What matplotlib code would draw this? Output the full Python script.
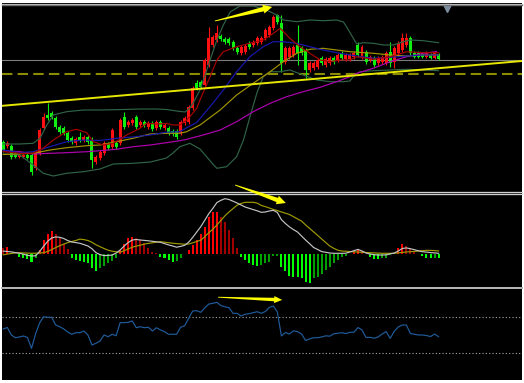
import numpy as np
import matplotlib
matplotlib.use("Agg")
import matplotlib.pyplot as plt
from matplotlib.patches import Polygon, Rectangle
from matplotlib.lines import Line2D
from matplotlib.transforms import IdentityTransform

# ---------------- data (candles, price units) ----------------
opens = [58,54,54,47,43,43,45,45,32,47, 72,85,87,82,73,72,67,62,57,63,
         60,63,60,38,42,47,56,53,57,57, 83,75,77,83,75,78,73,77,72,78,
         72,72,69,69,67,77,78,92,117,118, 115,135,155,160,164,161,161,158,152,147,
         148,157,155,157,158,162,165,172,185,177, 138,143,145,155,152,150,130,132,133,142,
         135,137,142,140,147,141,141,143,155,143, 148,140,142,137,138,137,148,138,147,150,
         155,162,147,147,146,143,145,142,146]
closes = [50,57,43,43,45,45,42,28,48,70, 83,82,83,73,68,67,60,58,61,60,
          63,58,40,43,48,57,52,70,53,80, 73,78,80,73,78,75,77,71,78,73,
          75,67,67,63,78,82,93,112,112,113, 140,162,163,167,161,158,157,152,148,153,
          154,153,158,162,162,170,173,183,178,137, 152,152,153,147,147,130,137,137,140,137,
          141,142,138,145,142,145,145,147,145,153, 138,143,135,142,143,147,137,152,157,162,
          162,147,143,143,143,147,142,147,141]
highs = [60,59,56,49,46,46,47,47,50,72, 87,97,89,84,75,74,69,64,63,68,
         65,65,63,45,50,59,58,72,59,82, 88,80,82,85,80,80,79,79,80,80,
         77,74,71,71,80,84,95,114,120,120, 142,173,165,175,166,163,163,160,154,155,
         156,159,160,164,164,172,175,185,186,185, 154,154,155,175,154,152,139,139,142,144,
         143,144,144,147,149,147,147,149,158,155, 150,145,144,144,145,149,158,154,159,167,
         167,164,149,149,148,149,147,149,147]
lows = [48,52,41,42,42,42,41,25,30,45, 70,80,81,71,66,65,58,56,55,58,
        58,56,32,36,40,45,50,51,51,55, 71,73,75,71,73,73,71,69,70,71,
        70,65,64,61,65,75,76,90,110,111, 113,133,153,158,159,156,155,150,146,145,
        146,151,153,155,156,160,163,170,176,128, 136,141,143,135,145,122,128,130,131,135,
        133,135,136,138,140,139,139,141,143,141, 136,138,133,135,136,135,133,132,145,148,
        153,145,142,142,142,142,141,141,140]

# ---------------- main-panel indicator lines (bar index, value) ----------------
bb_up_bar = [0,4.1,7.4,9.1,10.8,12.4,15.7,19.9,24,29.8,33.9,38.1,40.5,43,45.1,46.3,47.1,48.8,50.5,51.3,
             53,54.6,56.3,58.7,62,64.5,66.2,67.8,69.5,72.8,76.1,79.4,82.7,84.4,85.2,86.8,87.7,89.3,91.8,94.3,
             96.8,99.3,100.9,104.2,108]
bb_up = [56,56,56.7,61.7,75,85,88.3,90,90,90.5,91,91,90.5,89,88,92,97,110,130,140,
         160,175,188,194,194,191,188.3,185,180,178.3,180,179.3,180,178,173,162,156,157.3,156.7,155,
         155,158.3,160,159.3,157.3]
bb_lo_bar = [0,4.1,7.4,9.9,12.4,15.7,19.9,24,27.3,32.2,36.5,40.5,42.1,43.8,46.3,48.8,50.5,52.2,53,55.4,
             57.9,59.6,61.2,62.9,64.5,66.2,68.7,71.1,74.4,77.8,81.1,84.4,86,86.8,88.5,91.8,96,100.1,104.2,108]
bb_lo = [46,45,35,26.7,24,26.7,28.3,31,36,36.7,38,42,47,53.3,56.7,51,43,35,31.7,33.3,
         43.3,60,83.3,106.7,123.3,128.3,128.3,130,125,120,118.3,118.3,119,123.3,128.3,129.3,130,130.7,130,129.3]
ma_red_bar = [0,4.1,7.4,9.9,12.4,15.7,18.2,20.7,22.3,24.8,27.3,30.6,33.9,35.5,38.1,40.5,42.1,43.8,45.5,46.3,
              48,48.8,51.3,53,54.6,57.9,61.2,64.5,67,68.7,71.1,73.6,76.1,78.6,81.1,83.5,86,87.7,91.8,96,
              100.1,104.2,108]
ma_red = [48.3,46.7,46.7,51.7,60,68.3,70.7,67.3,58.3,55,56.7,65,71.7,76.7,76,76.5,75,75,80,83.3,
          91.7,100,123.3,140,148.3,153.3,156.7,160,166.7,171.7,161.7,153.3,146.7,140,138.3,140,140,143.3,140.7,143.3,
          148.3,147.3,147.3]
ma_blue_bar = [0,4.1,7.4,11.6,15.7,19.9,24,28.1,32.2,36.4,40.5,43.8,44.7,48,51.3,54.6,57.9,61.2,64.5,67,
               69.5,72.8,76.1,79.4,82.7,86,91.8,96,100.1,104.2,108]
ma_blue = [50,47.3,48.3,53.3,58.3,60,59.5,61.7,63,65,67.8,68.3,70.5,77.5,93.3,110,128.3,143.3,153.3,158.3,
           158.3,156.7,153.3,150,147.3,145,141.7,142.7,144,145,145]
ma_olive_bar = [0,7.4,11.6,15.7,20.7,24,28.1,32.2,36.4,40.5,43.8,45.5,48.8,53.8,57.9,62,66.2,69.5,72.8,76.1,
                79.4,82.7,86,91.8,96,100.1,104.2,108]
ma_olive = [45.5,46.7,50,52.3,54.3,55,58.3,61.7,66,66.7,66.7,68.3,75,90,105,116.7,128.3,138.3,146.7,150.7,
            151.7,150,148.3,146.7,145,144,145,145]
ma_mag_bar = [0,4.1,7.4,11.6,15.7,20.7,24,28.1,32.2,36.4,40.5,43.8,45.5,49.6,53.8,57.9,62,66.2,70.3,74.4,
              78.6,82.7,86,87.7,91.8,96,100.1,104.2,107.5]
ma_mag = [49.3,48.3,46,46.7,47.3,48.3,49.3,50.7,53.3,55,57.3,59.3,60.7,65,70,78.3,88.3,96.7,103.3,108.3,
          112.7,118.3,123.3,126.7,131.7,138.3,143.3,146.7,148.3]

level_dashed = 126     # olive dashed horizontal level
price_line = 140       # current price line
trend_bars = [-0.82, 128.7]
trend_vals = [94, 139]

# ---------------- MACD ----------------
macd_line = [2.9,2.5,2.1,1.4,0.8,-0.2,-1.3,-2,-1.8,2.5,
             7.7,12.7,16,17.1,16.7,15.5,13.4,12,11.4,10.7,
             9.4,8,5.3,1.3,-0.6,-1.6,-1.4,-1.1,1,4,
             8,11.5,14,14.5,14,13.6,13.2,12.7,12.2,11.7,
             10.4,9.1,8,6.8,7.6,8.7,11.8,16.6,22,27.3,
             33.8,40.4,45.7,51.4,53.7,55.3,54.5,52.8,51,49,
             47,45.7,44.4,43.2,41.7,42,43,43.7,41.5,34.4,
             30.5,27.1,24.4,22,18,14,10.3,6.5,4.5,2.4,
             1.7,1,0.7,0.7,0.7,0.8,2,3.3,4.6,3,
             1,0,-0.7,-1,-1,-0.9,0.2,1,3,5.5,
             6.1,5.3,4.3,3.2,2.3,1.9,1.4,1.1,0.7]
macd_signal = [-0.8,-0.1,0.5,1.1,1.2,1.1,0.9,0.7,0.8,1,
               1.3,2.5,4.4,6.4,8.3,9.9,11.4,12.5,13.5,14.9,
               14.4,13.5,11.7,9.2,7.3,5.5,3.8,2.8,2.2,1.7,
               3.4,5.1,6.8,7.9,8.8,9.9,10.6,11.2,11.8,12.3,
               11.8,11.3,10.8,10.4,10.1,9.8,9.9,11.2,12.5,13.9,
               17.3,21.3,24.8,29,33.6,38.2,42,45.4,48.8,50.5,
               51.7,51.7,51.7,50.9,48.6,47.4,46,44.6,43.4,42.1,
               40.8,39.5,37.3,35.1,32.9,29.1,25.6,22.1,18.6,15,
               11.5,8,5.7,3.8,3,2.7,2.5,2.2,2,1.7,
               1.5,1.3,1.1,0.9,0.7,0.7,0.7,0.7,1.1,1.6,
               2,2.3,2.6,3,3.3,3.6,3.6,3.4,3]
macd_hist = [6.5,6.8,1,0.5,-2.7,-3.7,-5,-8.3,-4.3,4,
             14,19.7,23.3,20,15.7,9.7,5,-4.3,-6,-7,
             -8.3,-9.3,-13.7,-16.7,-14.3,-11.7,-9.3,-7,-4.3,4,
             9.7,15.7,17.3,16.3,14,10.7,6.3,2.3,1,-2.7,
             -3.7,-6,-7.7,-7,-4.3,0.5,4,9,14,19.7,
             27.3,37.3,41.7,41.8,37.3,31.7,24,15.7,6.3,-2.7,
             -6,-9.3,-11,-11.7,-11,-9.3,-7.7,-1.7,-1.5,-12.7,
             -17,-21.7,-22.7,-22.8,-24.3,-27.7,-28.7,-24.3,-22.7,-20.3,
             -16,-12.7,-9.3,-6,-2.7,-1.7,0.3,2.3,4.7,3,
             0.5,-2.7,-5,-5.1,-4.3,-3.7,-0.5,1,5.7,9.7,
             8,5.7,2.3,0.5,-2,-4.3,-4.4,-3.7,-4.3]

# ---------------- RSI ----------------
rsi = [56.7,58.3,50,47,47.8,48.9,47.2,35.2,51.1,63.3,
       70.3,69.7,69.7,61.1,59.2,56.7,53.3,50.8,52.6,52.6,
       54.4,50,38.9,40.8,43.3,50,48.1,50.8,49.2,63.7,
       63.7,64.1,65.6,58.1,59.2,58.1,58.6,54.4,58.1,55.6,
       53.7,50.8,50.8,50.8,58.6,60.3,68.6,76.7,77,75.2,
       80.3,84.4,85.2,86.3,82.6,81.4,80.3,74.1,74.1,71.1,
       73,73.7,74.8,75.9,74.1,76.1,80.6,82.2,75.5,48.9,
       52.8,51.1,54.7,53.7,51.1,43.9,45.6,47,47,47.8,
       49.1,48.7,51.4,51.9,52.6,51.6,53,53.1,58.3,55.6,
       47.2,47.4,46.4,47.8,51.1,53.7,46.3,54.1,58.9,61.1,
       61.1,51.7,50.8,50,50,49.4,48.3,51.1,48.1]
rsi_levels = [70, 30]

# annotation arrows (bar, value) in each panel
arrow_main = [(52.5, 179), (66.7, 193)]
arrow_macd = [(57.5, 69), (70.1, 51)]
arrow_rsi = [(53.3, 92), (69.2, 89)]

# ---------------- figure ----------------
W, H = 524, 383
fig = plt.figure(figsize=(W / 100, H / 100), dpi=100, facecolor='white')


def frac(x0, y0, x1, y1):
    return [x0 / W, 1 - y1 / H, (x1 - x0) / W, (y1 - y0) / H]


fig.add_artist(Rectangle((2 / W, 1 - 380 / H), 520 / W, 377 / H, transform=fig.transFigure,
                         facecolor='black', edgecolor='none', zorder=-10))

ax_main = fig.add_axes(frac(2, 5, 522, 191))
ax_macd = fig.add_axes(frac(2, 195, 522, 287))
ax_rsi = fig.add_axes(frac(2, 290, 522, 380))
XLIM = (-0.32, 128.7)
for ax in (ax_main, ax_macd, ax_rsi):
    ax.set_facecolor('black')
    ax.set_xticks([])
    ax.set_yticks([])
    for s in ax.spines.values():
        s.set_visible(False)
    ax.set_xlim(*XLIM)
ax_main.set_ylim(9, 195)
ax_macd.set_ylim(-33, 59)
ax_rsi.set_ylim(0, 100)

LW = 0.85
# main panel
ax_main.axhline(price_line, color='#7c7c7c', lw=0.8, zorder=1)
ax_main.axhline(level_dashed, color='#8c8c00', lw=1.5, ls=(0, (5, 2.5)), zorder=1)
ax_main.plot(trend_bars, trend_vals, color='#e6e600', lw=1.4, zorder=6)

o, c, h, l = map(np.array, (opens, closes, highs, lows))
idx = np.arange(len(o))
up = c >= o
ccol = np.where(up, '#ff1010', '#10f010')
ax_main.vlines(idx, l, h, colors=ccol, lw=0.8, zorder=2)
body = np.maximum(np.abs(c - o), 0.8)
ax_main.bar(idx, body, bottom=np.minimum(o, c), width=0.74, color=ccol, linewidth=0, zorder=3)

ax_main.plot(bb_up_bar, bb_up, color='#2f6447', lw=LW, zorder=4)
ax_main.plot(bb_lo_bar, bb_lo, color='#2f6447', lw=LW, zorder=4)
ax_main.plot(ma_mag_bar, ma_mag, color='#b000b0', lw=LW, zorder=4)
ax_main.plot(ma_olive_bar, ma_olive, color='#a49400', lw=LW, zorder=4)
ax_main.plot(ma_blue_bar, ma_blue, color='#1818b0', lw=LW, zorder=4)
ax_main.plot(ma_red_bar, ma_red, color='#a80000', lw=LW, zorder=4)
ax_main.plot([110.1], [192.3], marker='v', ms=6, color='#7c8ea0', clip_on=False, zorder=7)

# MACD panel
hist = np.array(macd_hist)
hcol = []
for i, v in enumerate(hist):
    prev = hist[i - 1] if i > 0 else None
    if v >= 0:
        hcol.append('#ff0000' if (prev is not None and v >= prev) else '#a00000')
    else:
        hcol.append('#00ff00' if (prev is not None and v <= prev) else '#00a000')
ax_macd.bar(idx, hist, width=0.5, color=hcol, linewidth=0, zorder=2)
ax_macd.plot(idx, macd_signal, color='#a09a00', lw=LW, zorder=3)
ax_macd.plot(idx, macd_line, color='#c4c4c4', lw=LW, zorder=4)

# RSI panel
for lv in rsi_levels:
    ax_rsi.axhline(lv, color='#a8a8a8', lw=0.8, ls=(0, (1, 2)), zorder=1)
ax_rsi.plot(idx, rsi, color='#1f5c9c', lw=LW, zorder=3)

# separators / frame lines (pixel positions)
def hline_px(y, color, lw_px, x0=2, x1=522):
    fig.add_artist(Line2D([x0 / W, x1 / W], [1 - y / H] * 2, transform=fig.transFigure,
                          color=color, linewidth=lw_px * 0.72, zorder=5))

hline_px(3.6, '#c8c8c8', 1.2)
hline_px(5.2, '#707070', 1.4)
hline_px(192.4, '#d0d0d0', 1.3)
hline_px(194.4, '#d0d0d0', 1.3)
hline_px(287.6, '#b4b4b4', 2.0)


def tapered_arrow(ax, p0, p1, head_len=9, head_w=9, shaft_w=4.5, tail_w=0.8):
    a = ax.transData.transform(p0)
    b = ax.transData.transform(p1)
    d = b - a
    u = d / np.hypot(*d)
    n = np.array([-u[1], u[0]])
    base = b - u * head_len
    pts = [a + n * tail_w / 2, base + n * shaft_w / 2, base + n * head_w / 2, b,
           base - n * head_w / 2, base - n * shaft_w / 2, a - n * tail_w / 2]
    fig.add_artist(Polygon(pts, closed=True, transform=IdentityTransform(),
                           facecolor='#ffff00', edgecolor='none', zorder=10))


tapered_arrow(ax_main, *arrow_main)
tapered_arrow(ax_macd, *arrow_macd)
tapered_arrow(ax_rsi, *arrow_rsi, head_len=8, head_w=7, shaft_w=3.5)

fig.savefig('out.png', dpi=100, facecolor='white')
